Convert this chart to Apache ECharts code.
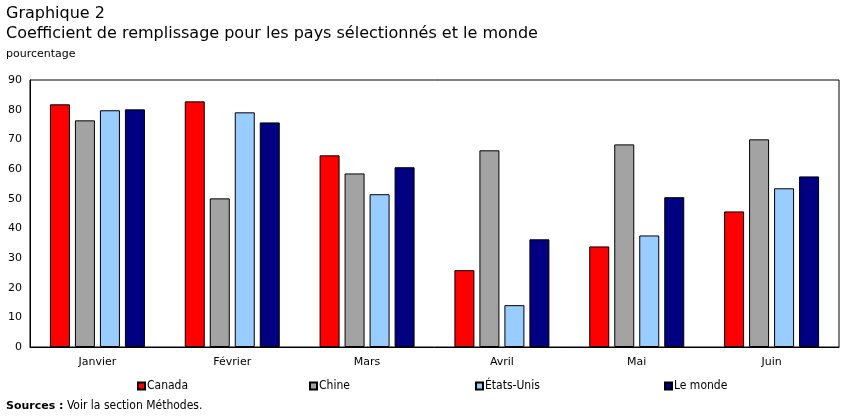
<!DOCTYPE html>
<html>
<head>
<meta charset="utf-8">
<script src="https://cdn.jsdelivr.net/npm/echarts@6/dist/echarts.min.js"></script>
<style>
  html, body { margin: 0; padding: 0; background: #fff; }
  #chart { width: 851px; height: 417px; }
</style>
</head>
<body>
<div id="chart"></div>
<script>
// valeurs
var months = ["Janvier", "Février", "Mars", "Avril", "Mai", "Juin"];
var canada = [81.8, 82.8, 64.6, 25.9, 33.9, 45.7];
var chine = [76.4, 50.1, 58.5, 66.3, 68.3, 70.0];
var etatsUnis = [79.8, 79.1, 51.5, 14.1, 37.6, 53.5];
var monde = [80.1, 75.7, 60.6, 36.3, 50.5, 57.5];
var seriesNames = ["Canada", "Chine", "États-Unis", "Le monde"];
var colors = ["#ff0000", "#a3a3a3", "#99ccff", "#000080"];
var legendLeft = [137, 309, 475, 664];

var font = "Verdana, 'DejaVu Sans', sans-serif";
var chart = echarts.init(document.getElementById("chart"));

var seriesData = [canada, chine, etatsUnis, monde];
var series = seriesData.map(function (d, i) {
  return {
    name: seriesNames[i],
    type: "bar",
    data: d,
    barWidth: 20,
    barGap: "25%",
    itemStyle: { color: colors[i], borderColor: "#000", borderWidth: 1 }
  };
});

var legends = seriesNames.map(function (n, i) {
  return {
    data: [n],
    left: legendLeft[i],
    top: 380,
    icon: "rect",
    itemWidth: 7,
    itemHeight: 7,
    itemGap: 2,
    padding: 0,
    textStyle: { fontFamily: "'Liberation Sans Narrow', 'DejaVu Sans Condensed', sans-serif", fontSize: 12, color: "#000", padding: [0, 0, 0, -3] }
  };
});

chart.setOption({
  animation: false,
  title: [
    {
      text: "Graphique 2\nCoefficient de remplissage pour les pays sélectionnés et le monde",
      left: 6, top: 4, padding: 0,
      textStyle: { fontFamily: font, fontSize: 16, fontWeight: "normal", color: "#000", lineHeight: 20 }
    },
    {
      text: "pourcentage",
      left: 6, top: 49, padding: 0,
      textStyle: { fontFamily: font, fontSize: 11, fontWeight: "normal", color: "#000" }
    },
    {
      text: "{b|Sources :} Voir la section Méthodes.",
      left: 6, top: 400, padding: 0,
      textStyle: {
        fontFamily: "'DejaVu Sans Condensed', sans-serif", fontSize: 12, fontWeight: "normal", color: "#000",
        rich: { b: { fontFamily: font, fontSize: 11, fontWeight: "bold", color: "#000" } }
      }
    }
  ],
  legend: legends,
  grid: {
    left: 30, right: 12, top: 80, bottom: 70,
    show: true, borderColor: "#000", borderWidth: 1, backgroundColor: "#fff"
  },
  xAxis: {
    type: "category",
    data: months,
    axisLine: { lineStyle: { color: "#000" } },
    axisTick: { show: false },
    axisLabel: { fontFamily: font, fontSize: 11, color: "#000", margin: 10 }
  },
  yAxis: {
    type: "value",
    min: 0, max: 90, interval: 10,
    axisLine: { show: true, lineStyle: { color: "#000" } },
    axisTick: { show: false },
    splitLine: { show: false },
    axisLabel: { fontFamily: font, fontSize: 11, color: "#000", margin: 8 }
  },
  series: series
});
</script>
</body>
</html>
